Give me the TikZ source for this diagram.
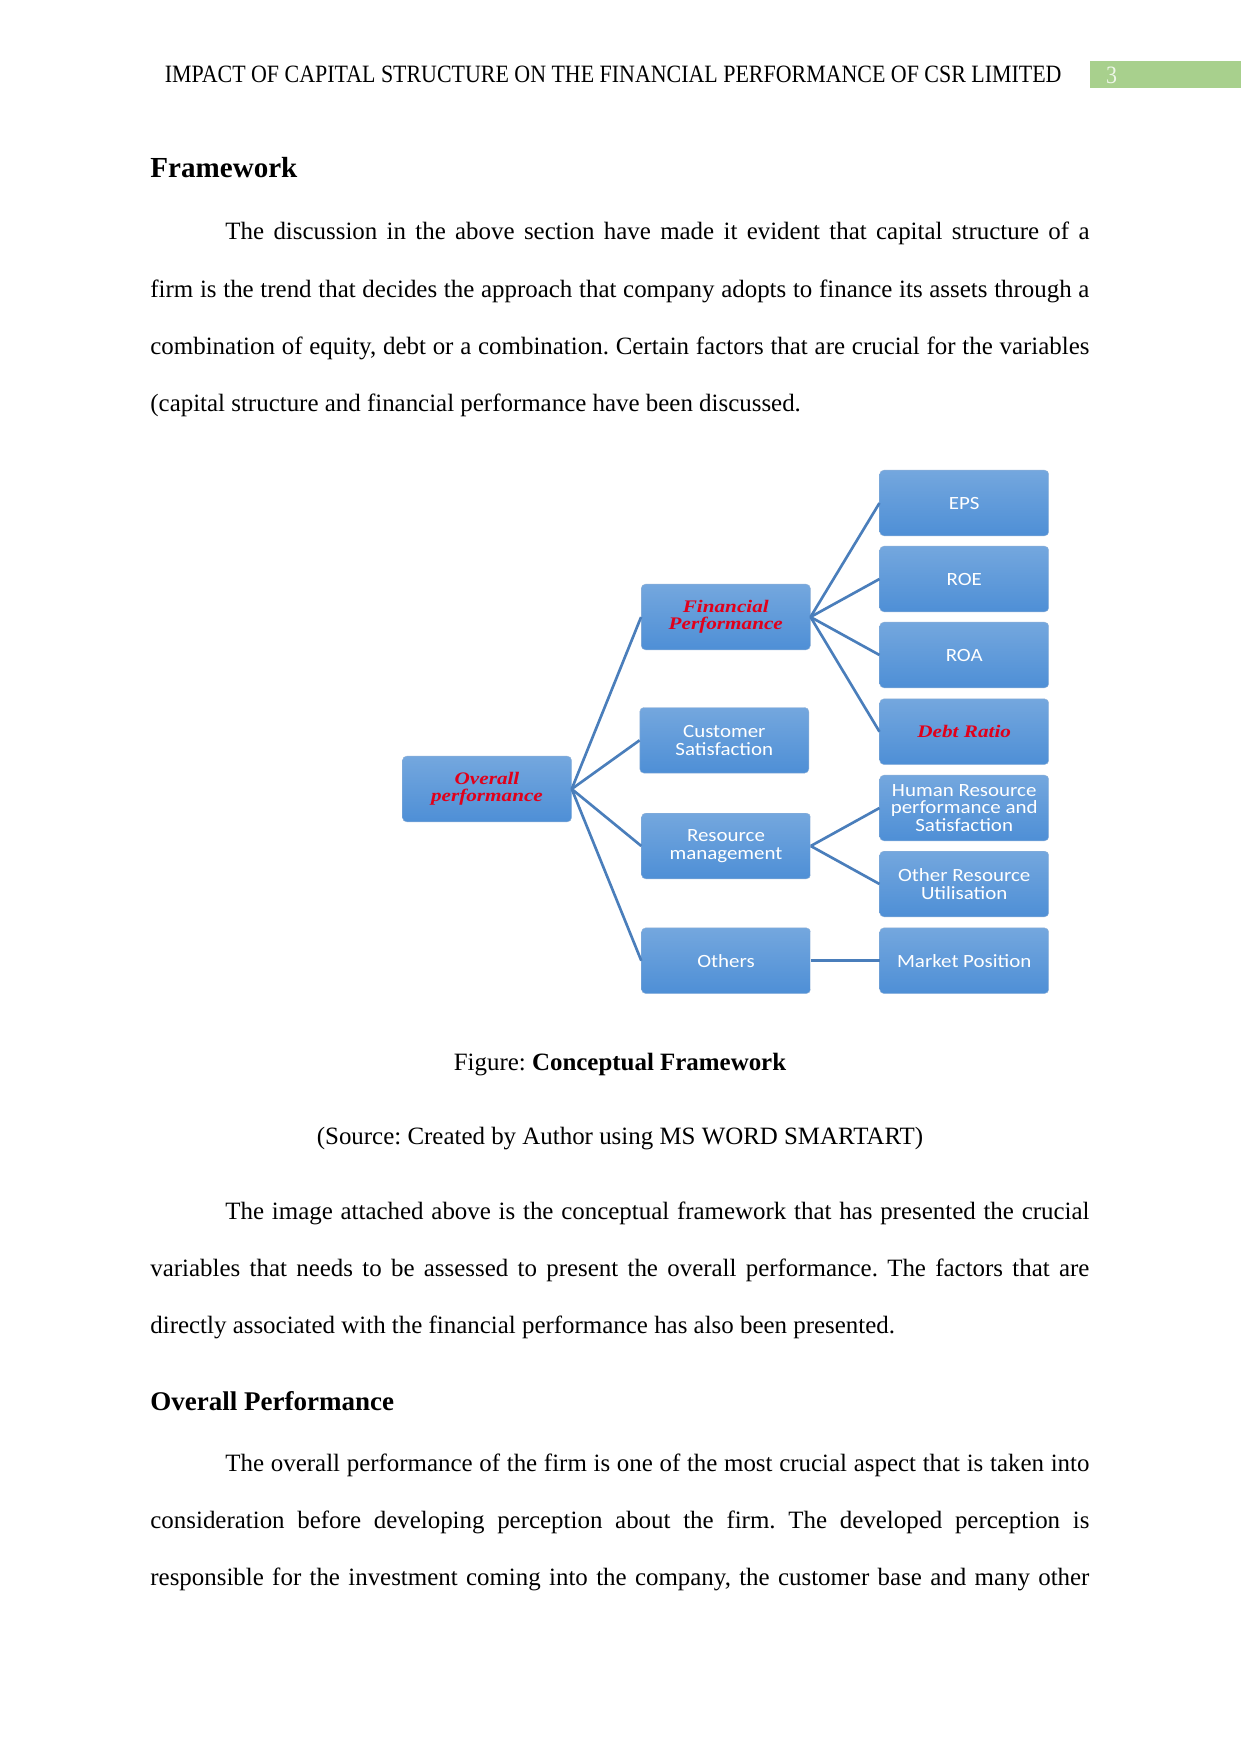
\documentclass[tikz,border=0pt]{standalone}
\usepackage{fontspec}
\setmainfont{Liberation Serif}
\newfontfamily\boxfont[FakeStretch=1.12]{Carlito}
\newfontfamily\redfont[FakeStretch=1.2]{Liberation Serif}
\newfontfamily\headfont[FakeStretch=0.88]{Liberation Serif}
\usepackage{xcolor}
\definecolor{boxtop}{HTML}{74A7DE}
\definecolor{boxbot}{HTML}{4E8FD6}
\definecolor{boxline}{HTML}{4A7EBB}
\definecolor{redtxt}{HTML}{E1001A}
\definecolor{pagegreen}{HTML}{A8D08D}
\definecolor{pagenum}{HTML}{EEF6E8}
\frenchspacing

\begin{document}
\begin{tikzpicture}[x=0.16922mm,y=-0.16922mm,
  blk/.style={rectangle,rounded corners=0.7mm,top color=boxtop,bottom color=boxbot,
    draw=boxline!60,line width=0.2pt,minimum width=28.6mm,minimum height=11.1mm,
    inner sep=0pt,align=center,text=white,font=\boxfont\fontsize{9}{8.5}\selectfont},
  redblk/.style={blk,text=redtxt,font=\redfont\bfseries\itshape\fontsize{8.5}{8}\selectfont},
  link/.style={boxline,line width=0.45mm},
  para/.style={anchor=base west,inner sep=0pt,text width=158.9mm,align=justify,
    font=\fontsize{12}{27.55}\selectfont}]
\useasboundingbox (0,0) rectangle (1241,1754);

% header
\node[anchor=base east,inner sep=0pt,font=\headfont\fontsize{12}{14}\selectfont] (head) at (1062,83)
  {IMPACT OF CAPITAL STRUCTURE ON THE FINANCIAL PERFORMANCE OF CSR LIMITED};
\fill[pagegreen] (1090,61.5) rectangle (1241,88.4);
\node[anchor=base,inner sep=0pt,text=pagenum,font=\headfont\fontsize{12}{14}\selectfont] (pgnum) at (1111.5,83.3) {3};

\node[anchor=base west,inner sep=0pt,font=\bfseries\fontsize{14}{16}\selectfont] (framework) at (150,178) {Framework};

\node[para] (p1) at (150,240) {\hspace*{12.7mm}The discussion in the above section have made it evident that capital structure of a\linebreak
firm is the trend that decides the approach that company adopts to finance its assets through a\linebreak
combination of equity, debt or a combination. Certain factors that are crucial for the variables\linebreak
(capital structure and financial performance have been discussed.};

% diagram
\node[redblk] (overall) at (487,789) {Overall\\performance};
\node[redblk] (fin) at (725.8,617) {Financial\\Performance};
\node[blk] (cust) at (724.3,740.3) {Customer\\Satisfaction};
\node[blk] (res) at (726,846) {Resource\\management};
\node[blk] (others) at (726,960.7) {Others};

\node[blk] (eps) at (964.2,503) {EPS};
\node[blk] (roe) at (964.2,579) {ROE};
\node[blk] (roa) at (964.2,655) {ROA};
\node[redblk] (debt) at (964.2,731.7) {Debt Ratio};
\node[blk] (hr) at (964.2,808) {Human Resource\\performance and\\Satisfaction};
\node[blk] (othres) at (964.2,884) {Other Resource\\Utilisation};
\node[blk] (market) at (964.2,960.7) {Market Position};

\foreach \c in {fin,cust,res,others}
  \draw[link] (overall.east) -- (\c.west);
\foreach \c in {eps,roe,roa,debt}
  \draw[link] (fin.east) -- (\c.west);
\foreach \c in {hr,othres}
  \draw[link] (res.east) -- (\c.west);
\draw[link] (others.east) -- (market.west);

\node[anchor=base,inner sep=0pt,font=\fontsize{12}{14}\selectfont] (caption) at (620,1070)
  {Figure: \textbf{Conceptual Framework}};
\node[anchor=base,inner sep=0pt,font=\fontsize{12}{14}\selectfont] (source) at (620,1144.5)
  {(Source: Created by Author using MS WORD SMARTART)};

\node[para] (p2) at (150,1219.2) {\hspace*{12.7mm}The image attached above is the conceptual framework that has presented the crucial\linebreak
variables that needs to be assessed to present the overall performance. The factors that are\linebreak
directly associated with the financial performance has also been presented.};

\node[anchor=base west,inner sep=0pt,font=\bfseries\fontsize{13}{15}\selectfont] (overallhead) at (150,1410) {Overall Performance};

\node[para] (p3) at (150,1471) {\hspace*{12.7mm}The overall performance of the firm is one of the most crucial aspect that is taken into\linebreak
consideration before developing perception about the firm. The developed perception is\linebreak
responsible for the investment coming into the company, the customer base and many other\parfillskip=0pt\par};
\end{tikzpicture}
\end{document}
